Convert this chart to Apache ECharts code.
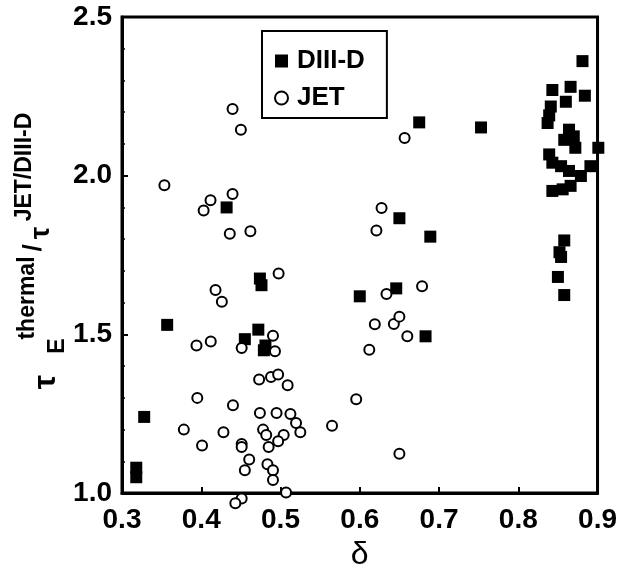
<!DOCTYPE html>
<html>
<head>
<meta charset="utf-8">
<script src="https://cdn.jsdelivr.net/npm/echarts@6/dist/echarts.min.js"></script>
<style>
html,body{margin:0;padding:0;background:#fff;}
#chart{width:620px;height:576px;}
</style>
</head>
<body>
<div id="chart"></div>
<script>
// ---- data ----
const seriesNames = ['DIII-D', 'JET'];
const xTicks = [0.3, 0.4, 0.5, 0.6, 0.7, 0.8, 0.9];
const yTicks = [1.0, 1.5, 2.0, 2.5];
const diiidDelta = [0.318, 0.318, 0.328, 0.357, 0.432, 0.455, 0.472, 0.481, 0.479, 0.474, 0.476,
  0.600, 0.646, 0.683, 0.650, 0.689, 0.675, 0.753,
  0.881, 0.843, 0.866, 0.884, 0.860, 0.841, 0.839, 0.837, 0.864, 0.870, 0.858, 0.872, 0.901,
  0.839, 0.843, 0.854, 0.891, 0.864, 0.879, 0.866, 0.843, 0.856, 0.858, 0.852, 0.854, 0.850, 0.858];
const diiidRatio = [1.08, 1.05, 1.24, 1.53, 1.90, 1.485, 1.515, 1.465, 1.45, 1.676, 1.655,
  1.62, 1.645, 1.494, 1.866, 1.808, 2.168, 2.152,
  2.361, 2.27, 2.28, 2.252, 2.233, 2.218, 2.19, 2.166, 2.145, 2.124, 2.113, 2.088, 2.088,
  2.067, 2.041, 2.03, 2.03, 2.015, 1.999, 1.968, 1.952, 1.957, 1.796, 1.759, 1.744, 1.681, 1.624];
const jetDelta = [0.4395, 0.450, 0.3535, 0.4117, 0.403, 0.4395, 0.436, 0.462,
  0.6566, 0.6275, 0.621,
  0.4976, 0.418, 0.426, 0.394, 0.412, 0.451, 0.4905, 0.493,
  0.473, 0.488, 0.497, 0.509,
  0.395, 0.440, 0.474, 0.495, 0.5125, 0.5196, 0.525,
  0.378, 0.428, 0.401, 0.478, 0.482, 0.504, 0.497, 0.485, 0.451, 0.451,
  0.4605, 0.455, 0.4835, 0.4905, 0.4905, 0.507, 0.451, 0.443,
  0.565, 0.5955,
  0.6786, 0.6337, 0.619, 0.643, 0.650, 0.660, 0.612, 0.650];
const jetRatio = [2.21, 2.145, 1.97, 1.923, 1.89, 1.942, 1.817, 1.825,
  2.119, 1.898, 1.827,
  1.692, 1.64, 1.603, 1.465, 1.478, 1.457, 1.496, 1.447,
  1.358, 1.366, 1.374, 1.340,
  1.30, 1.277, 1.252, 1.252, 1.249, 1.221, 1.192,
  1.20, 1.192, 1.15, 1.20, 1.183, 1.183, 1.163, 1.145, 1.155, 1.145,
  1.106, 1.072, 1.091, 1.072, 1.041, 1.002, 0.983, 0.968,
  1.2125, 1.296,
  1.652, 1.627, 1.532, 1.533, 1.556, 1.494, 1.452, 1.124];

const pairs = (xs, ys) => xs.map((x, i) => [x, ys[i]]);
const FONT = "'Liberation Sans', Arial, sans-serif";

const chart = echarts.init(document.getElementById('chart'), null, {renderer: 'canvas'});
const axisCommon = {
  axisLine: {show: true, onZero: false, lineStyle: {color: '#000', width: 3}},
  axisTick: {show: true, inside: true, length: 6, lineStyle: {color: '#000', width: 2}},
  splitLine: {show: false},
  axisLabel: {color: '#000', fontFamily: FONT, fontWeight: 'bold', fontSize: 28}
};
chart.setOption({
  animation: false,
  backgroundColor: '#fff',
  grid: {left: 122, right: 17, top: 17, bottom: 78, show: true, borderColor: '#000', borderWidth: 3},
  legend: {
    data: [
      {name: seriesNames[0], icon: 'rect', itemStyle: {color: '#000', opacity: 1}},
      {name: seriesNames[1], icon: 'circle', itemStyle: {color: '#fff', borderColor: '#000', borderWidth: 2, opacity: 1}}
    ],
    orient: 'vertical', left: 262, top: 31,
    padding: [17, 22, 7, 12], itemGap: 11, itemWidth: 13, itemHeight: 13,
    borderColor: '#000', borderWidth: 2,
    textStyle: {color: '#000', fontFamily: FONT, fontWeight: 'bold', fontSize: 26, padding: [0, 0, 0, 4]}
  },
  xAxis: Object.assign({}, axisCommon, {
    type: 'value', min: 0.3, max: 0.9, interval: 0.1,
    axisLabel: Object.assign({}, axisCommon.axisLabel, {margin: 13, formatter: v => v.toFixed(1)}),
    name: 'δ', nameLocation: 'middle', nameGap: 45,
    nameTextStyle: {color: '#000', fontFamily: FONT, fontSize: 32}
  }),
  yAxis: Object.assign({}, axisCommon, {
    type: 'value', min: 1.0, max: 2.5, interval: 0.5,
    minorTick: {show: true, splitNumber: 5, length: 3, lineStyle: {color: '#000', width: 1.5}},
    axisLabel: Object.assign({}, axisCommon.axisLabel, {margin: 10, formatter: v => v.toFixed(1)})
  }),
  graphic: [
    {type: 'text', x: 46, y: 382, rotation: Math.PI / 2, style: {text: 'τ', font: "bold 32px " + FONT, fill: '#000', align: 'center', verticalAlign: 'middle'}},
    {type: 'text', x: 58, y: 346, rotation: Math.PI / 2, style: {text: 'E', font: "bold 23px " + FONT, fill: '#000', align: 'center', verticalAlign: 'middle'}},
    {type: 'text', x: 28, y: 298, rotation: Math.PI / 2, style: {text: 'thermal', font: "bold 23px " + FONT, fill: '#000', align: 'center', verticalAlign: 'middle'}},
    {type: 'text', x: 34, y: 248, rotation: Math.PI / 2, style: {text: '/', font: "bold 26px " + FONT, fill: '#000', align: 'center', verticalAlign: 'middle'}},
    {type: 'text', x: 41, y: 233, rotation: Math.PI / 2, style: {text: 'τ', font: "bold 28px " + FONT, fill: '#000', align: 'center', verticalAlign: 'middle'}},
    {type: 'text', x: 25, y: 167, rotation: Math.PI / 2, style: {text: 'JET/DIII-D', font: "bold 23px " + FONT, fill: '#000', align: 'center', verticalAlign: 'middle'}}
  ],
  series: [
    {
      name: seriesNames[0], type: 'scatter', clip: false, symbol: 'rect', symbolSize: 12,
      itemStyle: {color: '#000', opacity: 1}, data: pairs(diiidDelta, diiidRatio)
    },
    {
      name: seriesNames[1], type: 'scatter', clip: false, symbol: 'circle', symbolSize: 10,
      itemStyle: {color: '#fff', borderColor: '#000', borderWidth: 2, opacity: 1}, data: pairs(jetDelta, jetRatio)
    }
  ]
});
</script>
</body>
</html>
